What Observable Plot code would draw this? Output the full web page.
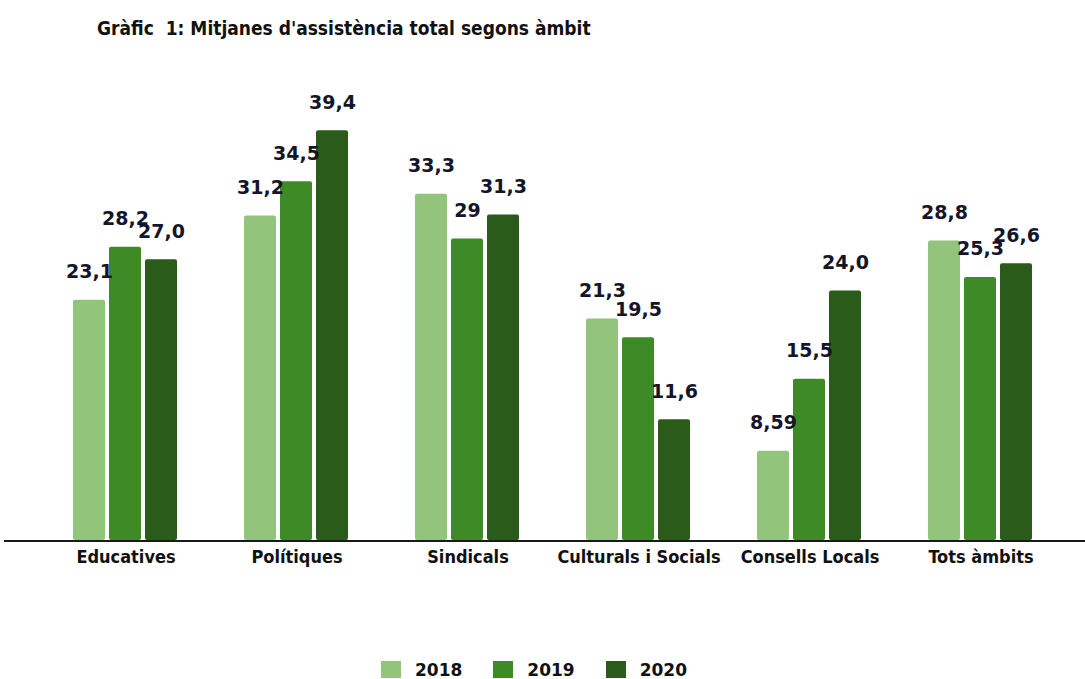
<!DOCTYPE html>
<html><head><meta charset="utf-8">
<script src="https://cdn.jsdelivr.net/npm/d3@7"></script>
<script src="https://cdn.jsdelivr.net/npm/@observablehq/plot@0.6"></script>
<style>
body{margin:0;background:#fff;font-family:"DejaVu Sans",sans-serif;width:1085px;height:679px;overflow:hidden}
#title{height:55px;box-sizing:border-box;padding-left:97px;padding-top:17px;font-size:19px;line-height:22px;font-weight:bold;color:#111;font-family:"DejaVu Sans Condensed","DejaVu Sans",sans-serif;}
#legend{display:flex;justify-content:center;margin-top:18px;padding-left:14px}
.lg-swatch{margin-right:31px !important}
.lg-swatch svg{margin-right:14px !important}
</style>
</head><body>
<div id="title">Gràfic&nbsp; 1: Mitjanes d'assistència total segons àmbit</div>
<div id="chart"></div>
<div id="legend"></div>
<script>
const categories = ["Educatives","Polítiques","Sindicals","Culturals i Socials","Consells Locals","Tots àmbits"];
const years = ["2018","2019","2020"];
const values2018 = [23.1, 31.2, 33.3, 21.3, 8.59, 28.8];
const values2019 = [28.2, 34.5, 29, 19.5, 15.5, 25.3];
const values2020 = [27.0, 39.4, 31.3, 11.6, 24.0, 26.6];
const labels2018 = ["23,1","31,2","33,3","21,3","8,59","28,8"];
const labels2019 = ["28,2","34,5","29","19,5","15,5","25,3"];
const labels2020 = ["27,0","39,4","31,3","11,6","24,0","26,6"];
const colors = ["#92c47c","#3e8a26","#2a5b1b"];

const series = [values2018, values2019, values2020];
const labs = [labels2018, labels2019, labels2020];
const data = [];
categories.forEach((c, i) => years.forEach((y, j) => data.push({cat: c, year: y, value: series[j][i], label: labs[j][i]})));

const chart = Plot.plot({
  width: 1085,
  height: 580,
  marginLeft: 40,
  marginRight: 19,
  marginTop: 17,
  marginBottom: 95,
  style: {fontFamily: "DejaVu Sans, sans-serif", background: "white", overflow: "visible"},
  fx: {domain: categories, padding: 0, label: null, axis: null},
  x: {domain: years, padding: 0.1, paddingOuter: 0.867, axis: null},
  y: {domain: [0, 45], axis: null},
  color: {domain: years, range: colors},
  marks: [
    Plot.barY(data, {fx: "cat", x: "year", y: "value", fill: "year", rx: 2}),
    Plot.text(data, {fx: "cat", x: "year", y: "value", text: "label", dy: -28, fontSize: 19, fontWeight: "bold", fill: "#15152a", style: "letter-spacing:1.8px"}),
    Plot.ruleY([0], {stroke: "#1a1a1a", strokeWidth: 2, insetLeft: -36, insetRight: -19, shapeRendering: "crispEdges"}),
    Plot.text(categories, {fx: d => d, frameAnchor: "bottom", text: d => d, dy: 22, fontSize: 18, fontWeight: "bold", fill: "#111", fontFamily: "DejaVu Sans Condensed, DejaVu Sans, sans-serif"})
  ]
});
document.getElementById("chart").appendChild(chart);

const leg = Plot.legend({color: {type: "ordinal", domain: years, range: colors}, swatchWidth: 20, swatchHeight: 17, className: "lg", style: {fontSize: "17px", fontWeight: "bold", color: "#111", fontFamily: "DejaVu Sans, sans-serif"}});
document.getElementById("legend").appendChild(leg);
</script>
</body></html>
